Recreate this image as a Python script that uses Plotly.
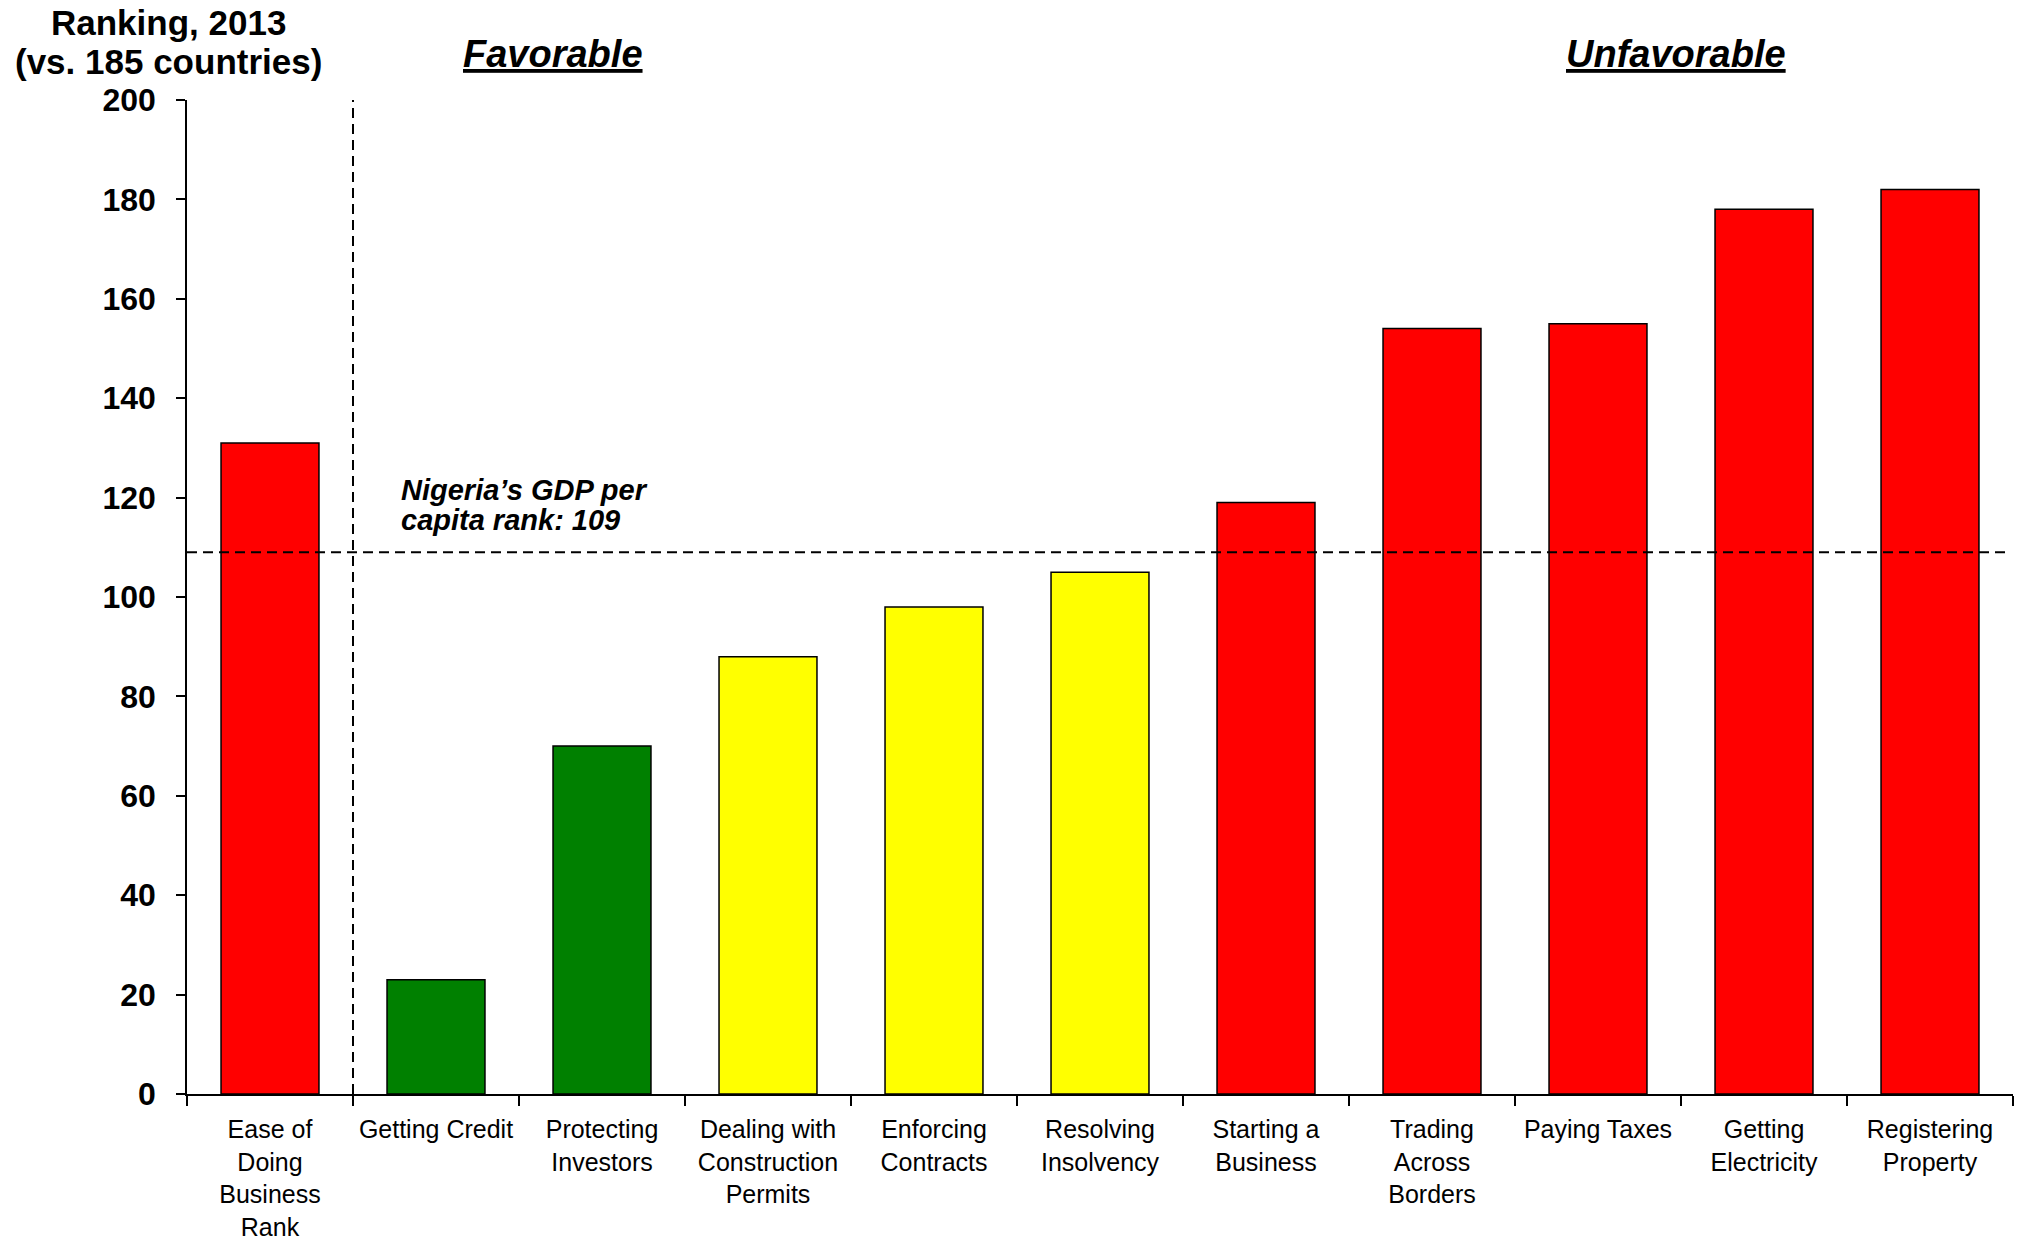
import plotly.graph_objects as go

categories = ["Ease of<br>Doing<br>Business<br>Rank", "Getting Credit", "Protecting<br>Investors",
              "Dealing with<br>Construction<br>Permits", "Enforcing<br>Contracts", "Resolving<br>Insolvency",
              "Starting a<br>Business", "Trading<br>Across<br>Borders", "Paying Taxes",
              "Getting<br>Electricity", "Registering<br>Property"]
rankings = [131, 23, 70, 88, 98, 105, 119, 154, 155, 178, 182]
bar_colors = ["#FF0000", "#008000", "#008000", "#FFFF00", "#FFFF00", "#FFFF00",
              "#FF0000", "#FF0000", "#FF0000", "#FF0000", "#FF0000"]
gdp_rank = 109
y_ticks = [0, 20, 40, 60, 80, 100, 120, 140, 160, 180, 200]

FONT = "Liberation Sans, Arial, sans-serif"

fig = go.Figure()
fig.add_trace(go.Bar(
    x=categories, y=rankings,
    marker=dict(color=bar_colors, line=dict(color="black", width=1.5)),
    showlegend=False,
))

# horizontal reference line (GDP per capita rank)
fig.add_shape(type="line", xref="x", yref="y", x0=-0.5, x1=10.47, y0=gdp_rank, y1=gdp_rank,
              line=dict(color="black", width=2, dash="10px,6px"))
# vertical divider after overall rank
fig.add_shape(type="line", xref="x", yref="y", x0=0.5, x1=0.5, y0=0, y1=200,
              line=dict(color="black", width=2, dash="10px,6px"))

annotations = [
    dict(text="<b>Ranking, 2013</b>", x=-0.0104, y=1.0775, size=35),
    dict(text="<b>(vs. 185 countries)</b>", x=-0.0104, y=1.0392, size=35),
    dict(text="<b><i><u>Favorable</u></i></b>", x=0.2004, y=1.046, size=38),
    dict(text="<b><i><u>Unfavorable</u></i></b>", x=0.8154, y=1.046, size=38),
]
for a in annotations:
    fig.add_annotation(xref="paper", yref="paper", showarrow=False, xanchor="center",
                       yanchor="middle", text=a["text"], x=a["x"], y=a["y"],
                       font=dict(family=FONT, color="black", size=a["size"]))

fig.add_annotation(xref="paper", yref="paper", x=0.1161, y=0.6076, xanchor="left", yanchor="middle",
                   showarrow=False, text="<b><i>Nigeria’s GDP per</i></b>",
                   font=dict(family=FONT, size=29, color="black"))
fig.add_annotation(xref="paper", yref="paper", x=0.1161, y=0.5775, xanchor="left", yanchor="middle",
                   showarrow=False, text="<b><i>capita rank: 109</i></b>",
                   font=dict(family=FONT, size=29, color="black"))

fig.update_layout(
    width=2025, height=1241,
    margin=dict(l=187, r=12, t=100, b=147),
    paper_bgcolor="white", plot_bgcolor="white",
    bargap=0.41,
    font=dict(family=FONT, color="black"),
)
fig.update_xaxes(
    type="category", range=[-0.5, 10.5], automargin=False,
    showline=True, linecolor="black", linewidth=2,
    ticks="outside", tickson="boundaries", ticklen=10, tickcolor="black", tickwidth=1.5,
    ticklabelstandoff=12,
    tickfont=dict(family=FONT, size=25, color="black"),
    showgrid=False, zeroline=False, tickangle=0,
)
fig.update_yaxes(
    range=[0, 200], tickvals=y_ticks, automargin=False,
    ticktext=[f"<b>{v}</b>" for v in y_ticks],
    showline=True, linecolor="black", linewidth=1.5,
    ticks="outside", ticklen=9, tickcolor="black", tickwidth=1.5,
    ticklabelstandoff=14,
    tickfont=dict(family=FONT, size=32, color="black"),
    showgrid=False, zeroline=False,
)

fig.write_html("out.html")
